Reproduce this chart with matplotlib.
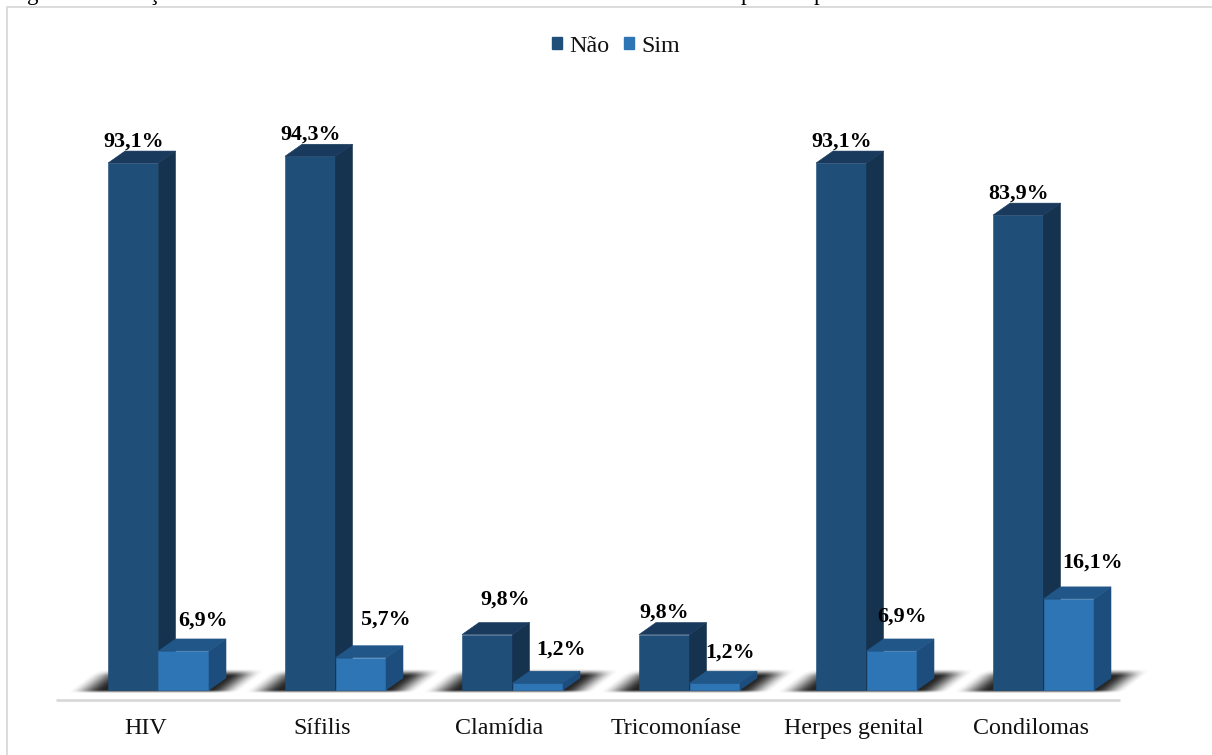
import numpy as np
import matplotlib
matplotlib.use("Agg")
import matplotlib.pyplot as plt
from matplotlib.patches import Polygon, Patch

plt.rcParams['font.family'] = ['Liberation Serif', 'DejaVu Serif']

categories = ["HIV", "Sífilis", "Clamídia", "Tricomoníase", "Herpes genital", "Condilomas"]
nao_values = [93.1, 94.3, 9.8, 9.8, 93.1, 83.9]
sim_values = [6.9, 5.7, 1.2, 1.2, 6.9, 16.1]
series_names = ["Não", "Sim"]

# Label offsets from the front-top centre of each bar, in pixels
nao_label_offsets = [(0, 21), (0, 22), (18, 35), (0, 22), (0, 21), (0, 22)]
sim_label_offsets = [(19, 30), (25, 38), (23, 34), (15, 31), (10, 34), (24, 36)]

W, H = 1212, 755
GROUP_PX = 177.0      # distance between categories
UNIT_PX = 5.66        # pixels per percentage point
X0_PX, Y0_PX = 158.5, 690.0   # first category centre, baseline
BAR_PX = 50.5
DEPTH_X_PX, DEPTH_Y_PX = 17.0, 12.0
TICK_SHIFT_PX = -13.0

NAO = dict(front="#1F4E79", side="#15324F", top="#193A5D")
SIM = dict(front="#2E75B6", side="#1D4D7C", top="#215688")
RULE = "#D9D9D9"

fig = plt.figure(figsize=(W / 100, H / 100), dpi=100, facecolor="white")
ax = fig.add_axes([0, 0, 1, 1])
ax.axis("off")

bar_w = BAR_PX / GROUP_PX
dx = DEPTH_X_PX / GROUP_PX
dy = DEPTH_Y_PX / UNIT_PX


def data_y(py):
    return (Y0_PX - py) / UNIT_PX


def data_x(px):
    return (px - X0_PX) / GROUP_PX


def smooth(a, b, v):
    t = np.clip((v - a) / (b - a), 0, 1)
    return t * t * (3 - 2 * t)


def floor_shadow(i):
    # Soft skewed shadow cast on the floor behind a category's pair of bars
    cx = X0_PX + i * GROUP_PX
    xs = np.arange(cx - 95, cx + 115)
    ys = np.arange(Y0_PX - 32, Y0_PX + 8)
    gx, gy = np.meshgrid(xs, ys)
    t = Y0_PX - gy
    sk = gx - 1.3 * t - cx
    a = smooth(-90, -55, sk) * (1 - smooth(50, 82, sk))
    a *= smooth(-3.0, 1.0, t) * (1 - smooth(14, 22, t))
    rgba = np.zeros(gx.shape + (4,))
    rgba[..., :3] = 0.10
    rgba[..., 3] = a * 0.95
    ax.imshow(rgba, extent=(data_x(xs[0]), data_x(xs[-1] + 1), data_y(ys[-1] + 1), data_y(ys[0])),
              origin="upper", aspect="auto", zorder=1, interpolation="bilinear")


def bar3d(left, value, colors, z):
    r = left + bar_w
    for pts, c in (
        ([(left, 0), (r, 0), (r, value), (left, value)], colors["front"]),
        ([(r, 0), (r + dx, dy), (r + dx, value + dy), (r, value)], colors["side"]),
        ([(left, value), (r, value), (r + dx, value + dy), (left + dx, value + dy)], colors["top"]),
    ):
        ax.add_patch(Polygon(pts, closed=True, facecolor=c, edgecolor=c, linewidth=0.4, zorder=z))


# Chart frame and category baseline
ax.plot([data_x(7.5), data_x(7.5), data_x(W)], [data_y(H), data_y(6.5), data_y(6.5)],
        color=RULE, lw=1.3, zorder=0, solid_joinstyle="miter")
ax.plot([data_x(56), data_x(1120)], [data_y(700), data_y(700)], color=RULE, lw=2.0, zorder=2,
        solid_capstyle="butt")

for i, (name, nao, sim) in enumerate(zip(categories, nao_values, sim_values)):
    floor_shadow(i)
    nao_left = i - bar_w
    sim_left = i
    bar3d(nao_left, nao, NAO, 3 + i * 0.01)
    bar3d(sim_left, sim, SIM, 4 + i * 0.01)
    for left, val, off in ((nao_left, nao, nao_label_offsets[i]), (sim_left, sim, sim_label_offsets[i])):
        ax.annotate(f"{val:.1f}%".replace(".", ","), (left + bar_w / 2, val), xytext=off,
                    textcoords="offset pixels", ha="center", va="center", fontsize=15.8,
                    fontweight="bold", color="black", zorder=6)
    ax.text(i + TICK_SHIFT_PX / GROUP_PX, data_y(734), name, ha="center", va="baseline",
            fontsize=17.3, color="#111111", zorder=6)

ax.set_xlim(-X0_PX / GROUP_PX, (W - X0_PX) / GROUP_PX)
ax.set_ylim(-(H - Y0_PX) / UNIT_PX, Y0_PX / UNIT_PX)

# Descenders of the caption line running off the top edge
for px, ch in ((33, "g"), (153, "ç"), (746, "p"), (819, "p")):
    ax.text(data_x(px), data_y(0), ch, ha="center", va="baseline", fontsize=16.5, color="black",
            clip_on=True, zorder=6)

handles = [Patch(facecolor=NAO["front"], edgecolor=NAO["front"], label=series_names[0]),
           Patch(facecolor=SIM["front"], edgecolor=SIM["front"], label=series_names[1])]
ax.legend(handles=handles, ncol=2, loc="center", bbox_to_anchor=(616 / W, 1 - 46 / H),
          bbox_transform=fig.transFigure, frameon=False, fontsize=17.3,
          handlelength=0.42, handleheight=0.42, handletextpad=0.3, columnspacing=0.6,
          borderpad=0, labelcolor="#111111")

fig.savefig("out.png", dpi=100, facecolor="white")
